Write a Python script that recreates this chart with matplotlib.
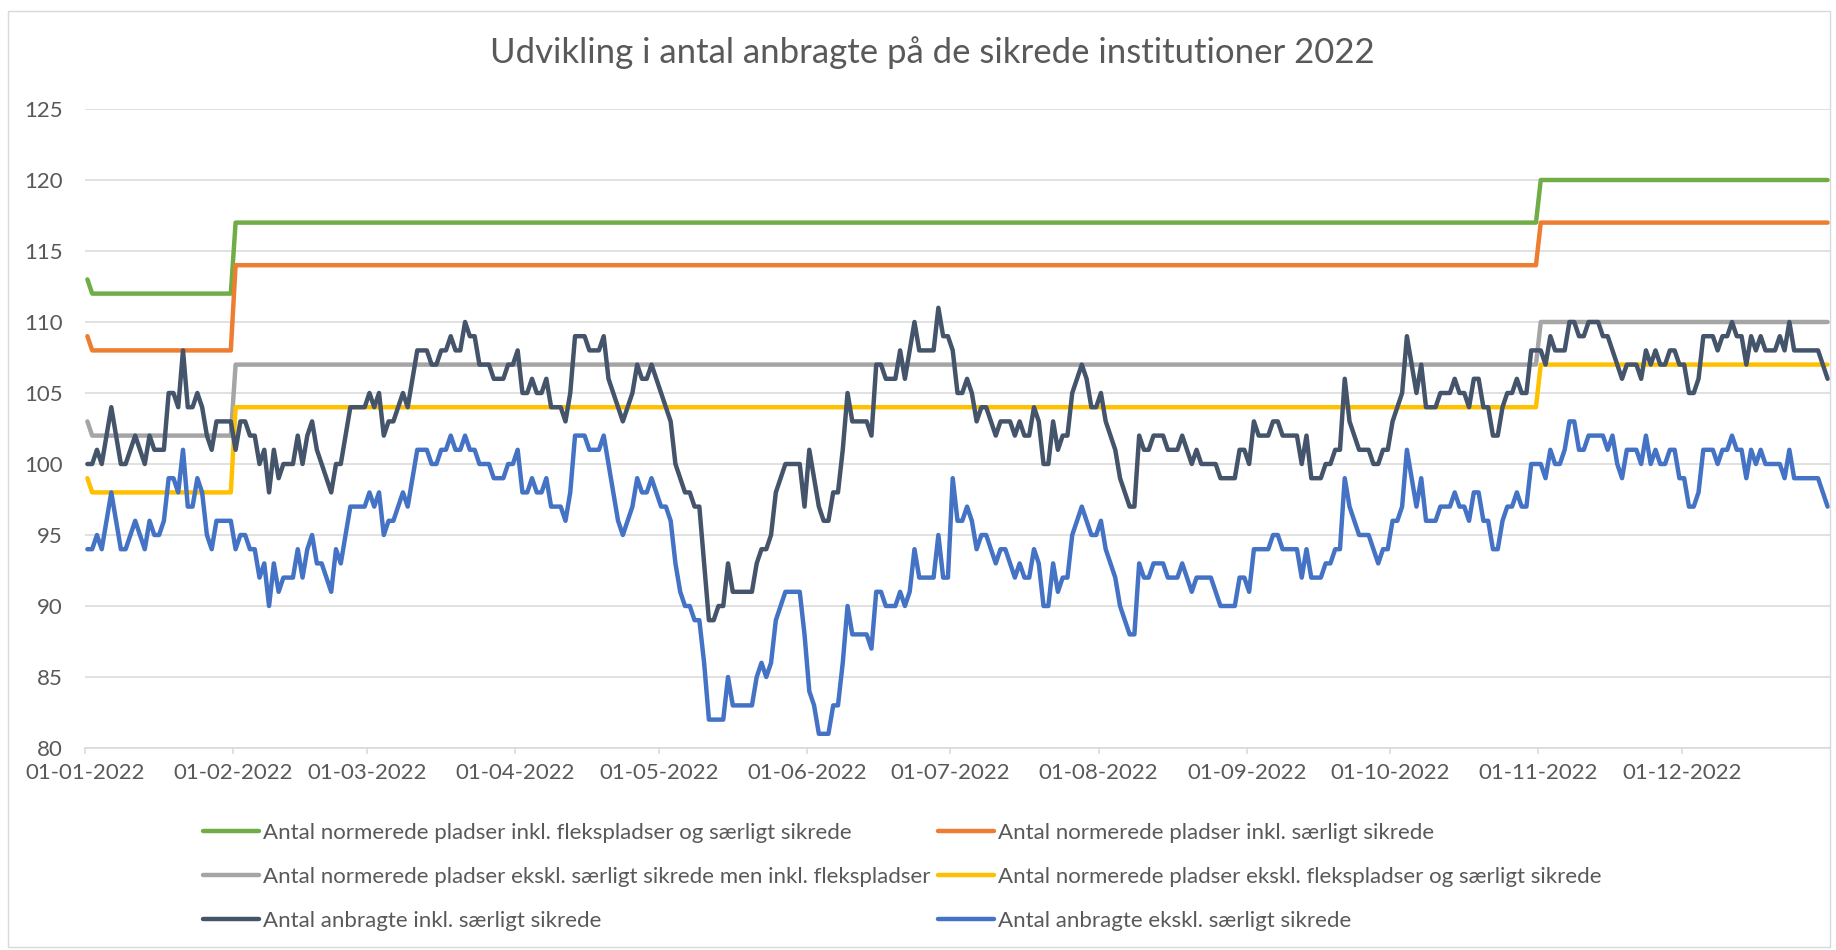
import numpy as np
import pandas as pd
import matplotlib
matplotlib.use("Agg")
import matplotlib.pyplot as plt
from matplotlib.lines import Line2D
from matplotlib.patches import Rectangle

plt.rcParams['font.family'] = ['Lato', 'DejaVu Sans']

# dage i 2022
dates = pd.date_range('2022-01-01', '2022-12-31', freq='D')

# normerede pladser (trin) - niveau og antal dage
step_counts = [1, 30, 273, 61]
green_levels = [113, 112, 117, 120]
orange_levels = [109, 108, 114, 117]
grey_levels = [103, 102, 107, 110]
yellow_levels = [99, 98, 104, 107]

# antal anbragte inkl. saerligt sikrede (dagligt)
anbragte_inkl = [
    100, 100, 101, 100, 102, 104, 102, 100, 100, 101,
    102, 101, 100, 102, 101, 101, 101, 105, 105, 104,
    108, 104, 104, 105, 104, 102, 101, 103, 103, 103,
    103, 101, 103, 103, 102, 102, 100, 101, 98, 101,
    99, 100, 100, 100, 102, 100, 102, 103, 101, 100,
    99, 98, 100, 100, 102, 104, 104, 104, 104, 105,
    104, 105, 102, 103, 103, 104, 105, 104, 106, 108,
    108, 108, 107, 107, 108, 108, 109, 108, 108, 110,
    109, 109, 107, 107, 107, 106, 106, 106, 107, 107,
    108, 105, 105, 106, 105, 105, 106, 104, 104, 104,
    103, 105, 109, 109, 109, 108, 108, 108, 109, 106,
    105, 104, 103, 104, 105, 107, 106, 106, 107, 106,
    105, 104, 103, 100, 99, 98, 98, 97, 97, 93,
    89, 89, 90, 90, 93, 91, 91, 91, 91, 91,
    93, 94, 94, 95, 98, 99, 100, 100, 100, 100,
    97, 101, 99, 97, 96, 96, 98, 98, 101, 105,
    103, 103, 103, 103, 102, 107, 107, 106, 106, 106,
    108, 106, 108, 110, 108, 108, 108, 108, 111, 109,
    109, 108, 105, 105, 106, 105, 103, 104, 104, 103,
    102, 103, 103, 103, 102, 103, 102, 102, 104, 103,
    100, 100, 103, 101, 102, 102, 105, 106, 107, 106,
    104, 104, 105, 103, 102, 101, 99, 98, 97, 97,
    102, 101, 101, 102, 102, 102, 101, 101, 101, 102,
    101, 100, 101, 100, 100, 100, 100, 99, 99, 99,
    99, 101, 101, 100, 103, 102, 102, 102, 103, 103,
    102, 102, 102, 102, 100, 102, 99, 99, 99, 100,
    100, 101, 101, 106, 103, 102, 101, 101, 101, 100,
    100, 101, 101, 103, 104, 105, 109, 107, 105, 107,
    104, 104, 104, 105, 105, 105, 106, 105, 105, 104,
    106, 106, 104, 104, 102, 102, 104, 105, 105, 106,
    105, 105, 108, 108, 108, 107, 109, 108, 108, 108,
    110, 110, 109, 109, 110, 110, 110, 109, 109, 108,
    107, 106, 107, 107, 107, 106, 108, 107, 108, 107,
    107, 108, 108, 107, 107, 105, 105, 106, 109, 109,
    109, 108, 109, 109, 110, 109, 109, 107, 109, 108,
    109, 108, 108, 108, 109, 108, 110, 108, 108, 108,
    108, 108, 108, 107, 106,
]

# antal anbragte ekskl. saerligt sikrede (dagligt)
anbragte_ekskl = [
    94, 94, 95, 94, 96, 98, 96, 94, 94, 95,
    96, 95, 94, 96, 95, 95, 96, 99, 99, 98,
    101, 97, 97, 99, 98, 95, 94, 96, 96, 96,
    96, 94, 95, 95, 94, 94, 92, 93, 90, 93,
    91, 92, 92, 92, 94, 92, 94, 95, 93, 93,
    92, 91, 94, 93, 95, 97, 97, 97, 97, 98,
    97, 98, 95, 96, 96, 97, 98, 97, 99, 101,
    101, 101, 100, 100, 101, 101, 102, 101, 101, 102,
    101, 101, 100, 100, 100, 99, 99, 99, 100, 100,
    101, 98, 98, 99, 98, 98, 99, 97, 97, 97,
    96, 98, 102, 102, 102, 101, 101, 101, 102, 100,
    98, 96, 95, 96, 97, 99, 98, 98, 99, 98,
    97, 97, 96, 93, 91, 90, 90, 89, 89, 86,
    82, 82, 82, 82, 85, 83, 83, 83, 83, 83,
    85, 86, 85, 86, 89, 90, 91, 91, 91, 91,
    88, 84, 83, 81, 81, 81, 83, 83, 86, 90,
    88, 88, 88, 88, 87, 91, 91, 90, 90, 90,
    91, 90, 91, 94, 92, 92, 92, 92, 95, 92,
    92, 99, 96, 96, 97, 96, 94, 95, 95, 94,
    93, 94, 94, 93, 92, 93, 92, 92, 94, 93,
    90, 90, 93, 91, 92, 92, 95, 96, 97, 96,
    95, 95, 96, 94, 93, 92, 90, 89, 88, 88,
    93, 92, 92, 93, 93, 93, 92, 92, 92, 93,
    92, 91, 92, 92, 92, 92, 91, 90, 90, 90,
    90, 92, 92, 91, 94, 94, 94, 94, 95, 95,
    94, 94, 94, 94, 92, 94, 92, 92, 92, 93,
    93, 94, 94, 99, 97, 96, 95, 95, 95, 94,
    93, 94, 94, 96, 96, 97, 101, 99, 97, 99,
    96, 96, 96, 97, 97, 97, 98, 97, 97, 96,
    98, 98, 96, 96, 94, 94, 96, 97, 97, 98,
    97, 97, 100, 100, 100, 99, 101, 100, 100, 101,
    103, 103, 101, 101, 102, 102, 102, 102, 101, 102,
    100, 99, 101, 101, 101, 100, 102, 100, 101, 100,
    100, 101, 101, 99, 99, 97, 97, 98, 101, 101,
    101, 100, 101, 101, 102, 101, 101, 99, 101, 100,
    101, 100, 100, 100, 100, 99, 101, 99, 99, 99,
    99, 99, 99, 98, 97,
]

labels = [
    'Antal normerede pladser inkl. flekspladser og særligt sikrede',
    'Antal normerede pladser inkl. særligt sikrede',
    'Antal normerede pladser ekskl. særligt sikrede men inkl. flekspladser',
    'Antal normerede pladser ekskl. flekspladser og særligt sikrede',
    'Antal anbragte inkl. særligt sikrede',
    'Antal anbragte ekskl. særligt sikrede',
]
colors = ['#70AD47', '#ED7D31', '#A5A5A5', '#FFC000', '#44546A', '#4472C4']
title = 'Udvikling i antal anbragte på de sikrede institutioner 2022'

series = [
    np.repeat(green_levels, step_counts),
    np.repeat(orange_levels, step_counts),
    np.repeat(grey_levels, step_counts),
    np.repeat(yellow_levels, step_counts),
    np.array(anbragte_inkl),
    np.array(anbragte_ekskl),
]
for s in series:
    assert len(s) == len(dates), len(s)

txt = '#595959'
grid = '#D9D9D9'

fig = plt.figure(figsize=(18.36, 9.5), dpi=100)
ax = fig.add_axes([85 / 1836, 1 - 748 / 950, 1745 / 1836, 639 / 950])

x = np.arange(len(dates))
for s, c in zip(series, colors):
    ax.plot(x, s, color=c, lw=3.2, solid_joinstyle='round', solid_capstyle='round')

ax.set_xlim(-0.5, len(dates) - 0.5)
ax.set_ylim(80, 125)
ax.set_yticks(np.arange(80, 126, 5))
ax.yaxis.grid(True, color=grid, lw=1.1)
ax.set_axisbelow(True)

month_idx = np.where(dates.day == 1)[0]
ax.set_xticks(month_idx - 0.5)
ax.set_xticklabels([dates[i].strftime('%d-%m-%Y') for i in month_idx])

for side in ['top', 'right', 'left']:
    ax.spines[side].set_visible(False)
ax.spines['bottom'].set_color(grid)
ax.spines['bottom'].set_linewidth(1.1)
ax.tick_params(axis='y', length=0, pad=16, labelsize=16, labelcolor=txt)
ax.tick_params(axis='x', length=4, width=1.1, color=grid, pad=7, labelsize=16, labelcolor=txt)

fig.text(932 / 1836, 1 - 53 / 950, title, ha='center', va='center',
         fontsize=25, color=txt)

handles = [Line2D([], [], color=c, lw=3.2, solid_capstyle='round') for c in colors]
legend_kw = dict(loc='center left', frameon=False, fontsize=16, handlelength=2.5,
                 handletextpad=0.2, labelspacing=1.07, borderpad=0,
                 borderaxespad=0, labelcolor=txt)
fig.legend(handles[0::2], labels[0::2], bbox_to_anchor=(203 / 1836, 1 - 877 / 950), **legend_kw)
fig.legend(handles[1::2], labels[1::2], bbox_to_anchor=(938 / 1836, 1 - 877 / 950), **legend_kw)

# ramme om diagrammet
fig.patches.append(Rectangle((8 / 1836, 3 / 950), 1822 / 1836, 936 / 950,
                             transform=fig.transFigure, fill=False,
                             edgecolor=grid, lw=1))

fig.savefig('out.png', dpi=100)
